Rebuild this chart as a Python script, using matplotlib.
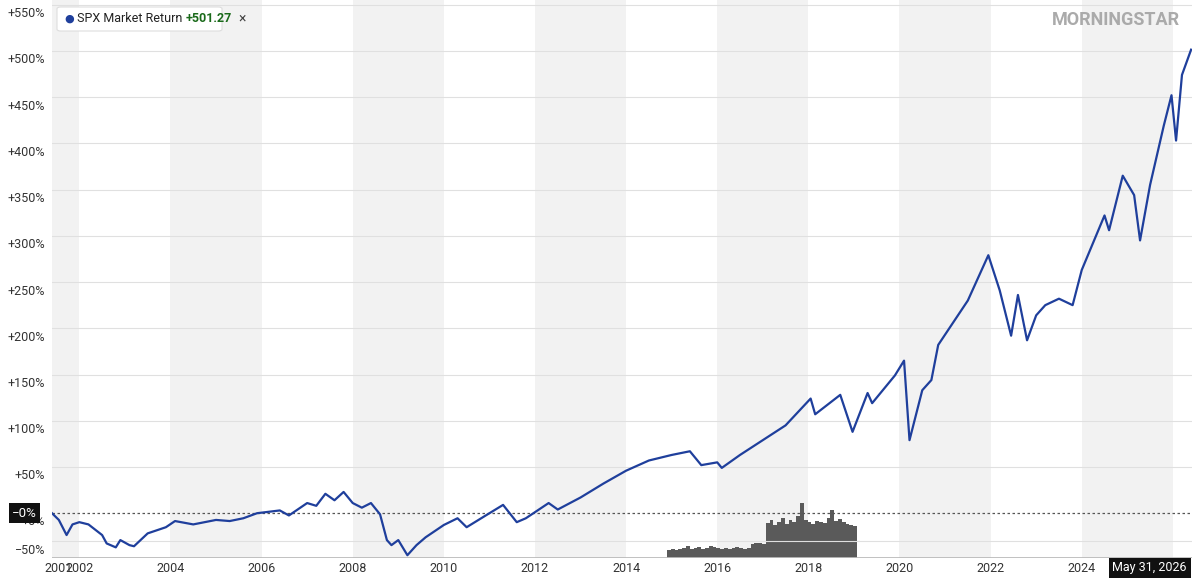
import matplotlib
matplotlib.use("Agg")
import matplotlib.pyplot as plt
import numpy as np
from matplotlib import transforms

years = [2001.4,2001.55,2001.72,2001.85,2002.0,2002.2,2002.5,2002.6,2002.8,2002.9,2003.1,2003.2,2003.5,2003.9,
2004.1,2004.5,2005.0,2005.3,2005.6,2005.9,2006.4,2006.6,2007.0,2007.2,2007.4,2007.6,2007.8,2008.0,2008.2,2008.4,
2008.6,2008.75,2008.85,2009.0,2009.2,2009.4,2009.6,2010.0,2010.3,2010.5,2010.9,2011.3,2011.6,2011.8,2012.3,2012.5,
2013.0,2013.5,2014.0,2014.5,2015.0,2015.4,2015.65,2016.0,2016.1,2016.5,2017.0,2017.5,2018.05,2018.15,2018.7,2018.97,
2019.3,2019.4,2019.9,2020.1,2020.22,2020.5,2020.7,2020.85,2021.5,2021.95,2022.2,2022.45,2022.6,2022.8,2023.0,2023.2,
2023.5,2023.8,2024.0,2024.5,2024.6,2024.9,2025.15,2025.28,2025.5,2025.8,2025.97,2026.07,2026.2,2026.4]
returns = [0,-12,-39,-20,-16,-20,-39,-54,-61,-48,-57,-59,-36,-25,
-14,-20,-12,-14,-9,0,3,-4,11,8,21,14,23,11,6,11,
-2,-48,-57,-48,-75,-57,-43,-21,-9,-25,-5,9,-16,-9,11,4,
17,32,46,57,63,67,52,55,49,63,79,95,124,107,128,88,
130,119,149,165,79,133,144,182,230,279,241,192,236,187,214,225,
232,225,263,322,306,365,344,295,355,419,452,403,474,501.27]

vol_x = list(np.round(np.arange(2014.9, 2019.0, 1/12), 3))
vol_h = [8,9,8,9,10,12,9,10,11,9,10,12,11,10,9,10,9,10,11,10,9,10,14,15,
         15,14,35,38,33,36,40,34,38,36,42,55,38,36,34,37,36,35,40,48,37,39,36,34,33,32][:len(vol_x)]

ytick_vals = [550,500,450,400,350,300,250,200,150,100,50,0,-50]
xtick_years = [2001,2002,2004,2006,2008,2010,2012,2014,2016,2018,2020,2022,2024]

plt.rcParams['font.family'] = ['Liberation Sans Narrow', 'Roboto', 'DejaVu Sans']

def fwd(v):
    v = np.asarray(v, float)
    return np.where(v >= 0, v*0.925, v*0.56)
def inv(t):
    t = np.asarray(t, float)
    return np.where(t >= 0, t/0.925, t/0.56)

fig = plt.figure(figsize=(12, 5.83), dpi=100)
vax = fig.add_axes([52/1200, 25/583, 1140/1200, 558/583])
ax = fig.add_axes([52/1200, 25/583, 1140/1200, 558/583], sharex=vax)
ax.patch.set_visible(False)

vax.set_xlim(2001.4, 2026.42)
vax.set_ylim(0, 558)
for s in range(2000, 2027, 4):
    vax.axvspan(s, s+2, color='#f2f2f2', zorder=0, lw=0)
vax.bar(vol_x, vol_h, width=1/12, color='#5a5a5a', align='edge', zorder=1)
vax.set_yticks([]); vax.set_xticks([])
for sp in vax.spines.values():
    sp.set_visible(False)

ax.set_yscale('function', functions=(fwd, inv))
ax.set_ylim(-80, 555)
for v in ytick_vals:
    if v != 0:
        ax.axhline(v, color='#e0e0e0', lw=0.8, zorder=1)
ax.axhline(0, color='#555', lw=0.9, ls=(0, (2, 2)), zorder=2)
ax.plot(years, returns, color='#1f3f9c', lw=1.6, zorder=3)
ax.set_yticks([]); ax.set_xticks([])
for sp in ax.spines.values():
    sp.set_visible(False)
ax.axhline(-80, color='#bbb', lw=2)

blend = transforms.blended_transform_factory(fig.transFigure, ax.transData)
down = transforms.ScaledTranslation(0, -9/100, fig.dpi_scale_trans)
for v in ytick_vals:
    if v == 0:
        continue
    lab = ('%+d%%' % v).replace('-', '−')
    fig.text(45/1200, v, lab, transform=blend + down, ha='right', va='center', fontsize=9, color='#333')
fig.text(45/1200, 0, '+0%', transform=blend + transforms.ScaledTranslation(0, -8/100, fig.dpi_scale_trans),
         ha='right', va='center', fontsize=9, color='#333', zorder=1)
fig.text(12/1200, 0, '−0%', transform=blend, ha='left', va='center', fontsize=9.5, color='white', zorder=5,
         bbox=dict(boxstyle='square,pad=0.25', fc='#111', ec='none'))

xt = transforms.blended_transform_factory(ax.transData, fig.transFigure)
for yr in xtick_years:
    if yr == 2001:
        fig.text(44/1200, 1-568/583, str(yr), ha='left', va='center', fontsize=9, color='#333')
    else:
        fig.text(yr, 1-568/583, str(yr), transform=xt, ha='center', va='center', fontsize=9, color='#333')
fig.text(1187/1200, 1-568/583, 'May 31, 2026', ha='right', va='center',
         fontsize=9, color='white', bbox=dict(boxstyle='square,pad=0.3', fc='#111', ec='none'))

# legend chip
t1 = fig.text(64/1200, 1-19/583, '●', color='#1f3f9c', fontsize=8, va='center', ha='left')
a2 = fig.add_artist(matplotlib.text.Annotation(' SPX Market Return ', xy=(1, 0.5), xycoords=t1,
        va='center', ha='left', fontsize=9, color='#222'))
a3 = fig.add_artist(matplotlib.text.Annotation('+501.27', xy=(1, 0.5), xycoords=a2,
        va='center', ha='left', fontsize=9, color='#1a6a1a', weight='bold'))
a4 = fig.add_artist(matplotlib.text.Annotation('  ×', xy=(1, 0.5), xycoords=a3,
        va='center', ha='left', fontsize=10, color='#444'))
fig.patches.append(matplotlib.patches.FancyBboxPatch((57/1200, 1-31/583), 165/1200, 24/583,
        boxstyle='round,pad=0,rounding_size=0.003', fc='white', ec='#ddd', lw=0.8,
        transform=fig.transFigure, figure=fig, zorder=0))

fig.text(1180/1200, 1-20/583, 'MORNINGSTAR', color='#aaa', fontsize=13, va='center', ha='right', weight='bold')

fig.savefig('out.png', dpi=100)
